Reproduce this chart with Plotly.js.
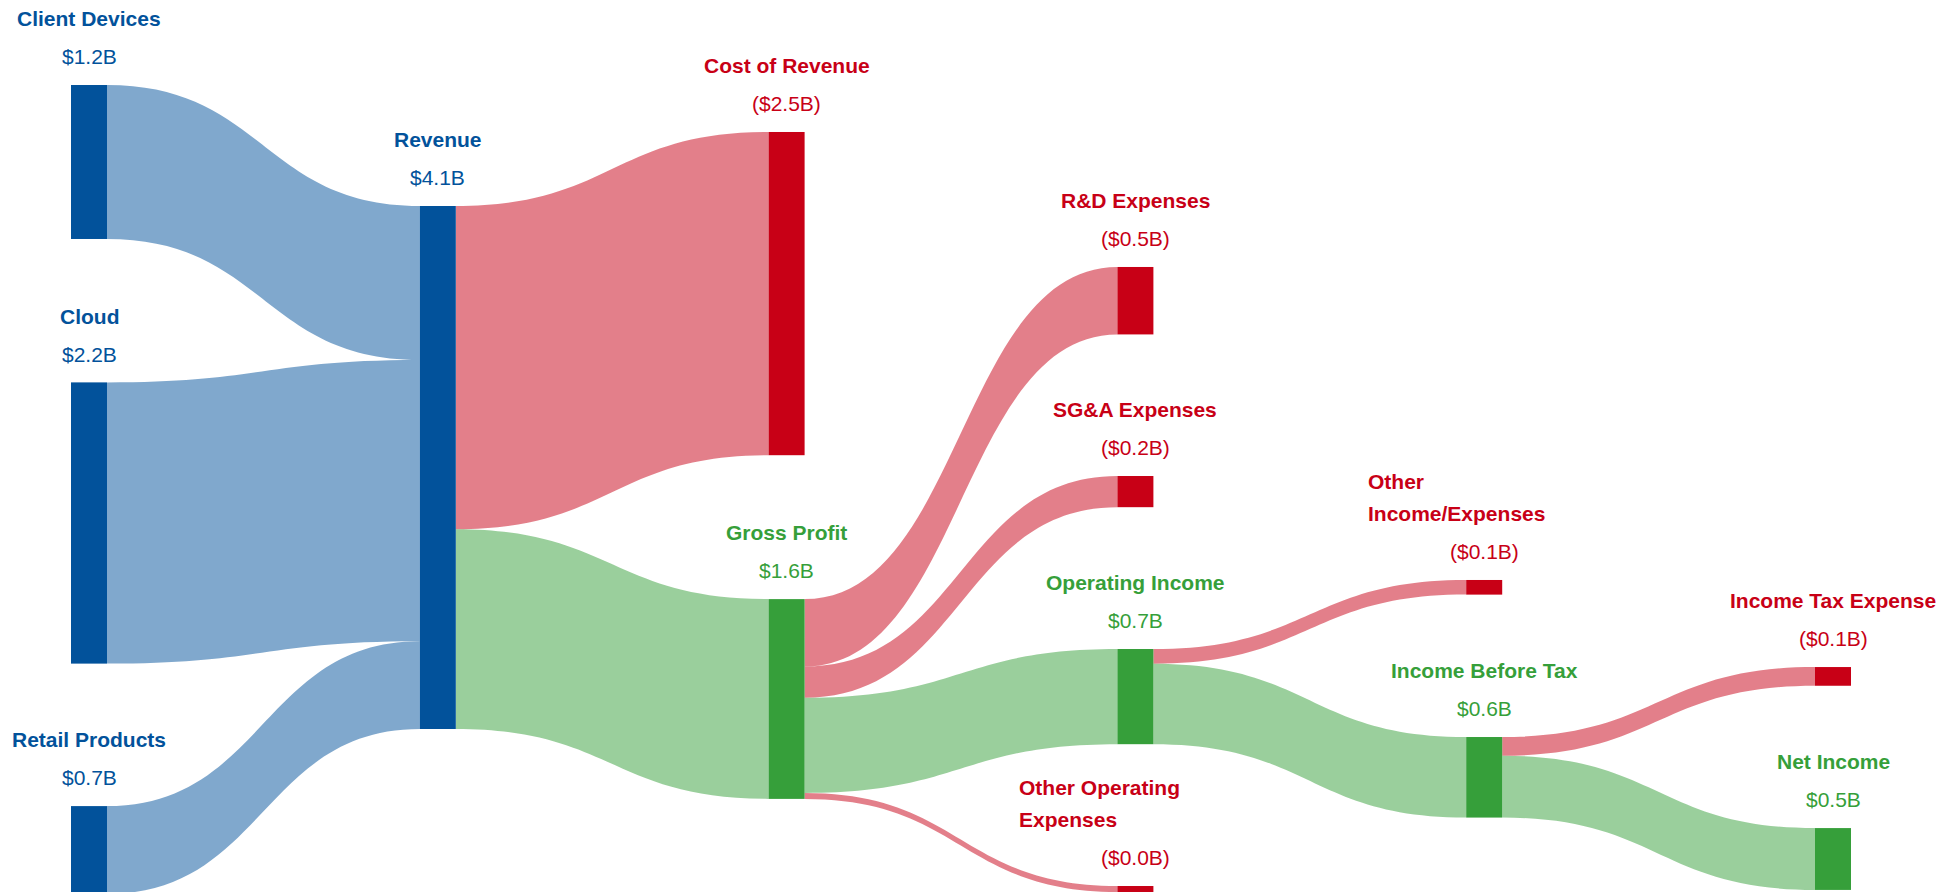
<!DOCTYPE html>
<html>
<head>
<meta charset="utf-8">
<script src="https://cdn.plot.ly/plotly-3.0.1.min.js"></script>
<style>
  html, body { margin: 0; padding: 0; background: #ffffff; }
  #chart { width: 1954px; height: 892px; }
</style>
</head>
<body>
<div id="chart"></div>
<script>
// ---------------- DATA ----------------
var nodeNames = [
  "Client Devices", "Cloud", "Retail Products", "Revenue", "Cost of Revenue",
  "Gross Profit", "R&D Expenses", "SG&A Expenses", "Operating Income",
  "Other Operating<br>Expenses", "Other<br>Income/Expenses", "Income Before Tax",
  "Income Tax Expense", "Net Income"
];
var nodeKind = [
  "income", "income", "income", "income", "expense",
  "profit", "expense", "expense", "profit",
  "expense", "expense", "profit",
  "expense", "profit"
];
var linkSource = [0, 1, 2, 3, 3, 5, 5, 5, 5, 8, 8, 11, 11];
var linkTarget = [3, 3, 3, 4, 5, 6, 7, 8, 9, 10, 11, 12, 13];
var linkValue  = [1210, 2210, 690, 2540, 1570, 530, 245, 748, 47, 115, 633, 147, 486]; // $ millions

// ---------------- ARRANGEMENT (layout only) ----------------
var W = 1954, H = 892;
var nodeColumn = [0, 0, 0, 1, 2, 2, 3, 3, 3, 3, 4, 4, 5, 5];
var nodeCenterYpx = [162, 523, 850, 467.5, 293.6, 699, 300.7, 491.6, 696.6, 889, 587.3, 777.3, 676.4, 859];
var colX0 = 89, colStep = 348.8;
var wrapHalfWidth = 118;   // wrapped labels: left-aligned inside a box centred on the node

// ---------------- STYLE ----------------
var FONT = "Arial, 'Liberation Sans', Helvetica, sans-serif";
var solid = { income: "rgb(2,82,155)", expense: "rgb(200,0,22)", profit: "rgb(54,159,58)" };
var light = { income: "rgba(2,82,155,0.5)", expense: "rgba(200,0,22,0.5)", profit: "rgba(54,159,58,0.5)" };

// node values (max of inflow / outflow)
var inSum = nodeNames.map(function(){ return 0; });
var outSum = nodeNames.map(function(){ return 0; });
for (var k = 0; k < linkValue.length; k++) {
  outSum[linkSource[k]] += linkValue[k];
  inSum[linkTarget[k]] += linkValue[k];
}
var nodeValue = nodeNames.map(function(_, i){ return Math.max(inSum[i], outSum[i]); });
function fmt(i) {
  var s = "$" + (nodeValue[i] / 1000).toFixed(1) + "B";
  return nodeKind[i] === "expense" ? "(" + s + ")" : s;
}

var trace = {
  type: "sankey",
  orientation: "h",
  arrangement: "fixed",
  node: {
    label: nodeNames.map(function(){ return ""; }),
    customdata: nodeNames.map(function(n, i){ return n.replace("<br>", " ") + ": " + fmt(i); }),
    hovertemplate: "%{customdata}<extra></extra>",
    color: nodeKind.map(function(c){ return solid[c]; }),
    line: { width: 0 },
    thickness: 36,
    pad: 184.5,
    align: "left",
    x: nodeColumn.map(function(c){ return (colX0 + c * colStep) / W; }),
    y: nodeCenterYpx.map(function(y){ return y / H; })
  },
  link: {
    source: linkSource,
    target: linkTarget,
    value: linkValue,
    color: linkTarget.map(function(t){ return light[nodeKind[t]]; }),
    line: { width: 0 }
  }
};

var layout = {
  width: W, height: H,
  margin: { l: 0, r: 0, t: 0, b: 0 },
  paper_bgcolor: "#ffffff",
  font: { family: FONT, size: 21 },
  showlegend: false
};

Plotly.newPlot("chart", [trace], layout, { displayModeBar: false }).then(function(gd) {
  var base = gd.getBoundingClientRect();
  var groups = gd.querySelectorAll(".sankey-node");
  var anns = [];
  var FS = 21;
  groups.forEach(function(g, gi) {
    var d = g.__data__ || {};
    var idx = (d.node && d.node.pointNumber !== undefined) ? d.node.pointNumber :
              (d.pointNumber !== undefined ? d.pointNumber : gi);
    var rectEl = g.querySelector(".node-rect") || g;
    var r = rectEl.getBoundingClientRect();
    var cx = (r.left + r.right) / 2 - base.left;
    var top = r.top - base.top;
    var color = solid[nodeKind[idx]];
    var valueBase = top - 21;
    anns.push({
      xref: "paper", yref: "paper", showarrow: false,
      x: cx / W, y: 1 - (valueBase - 0.346 * FS) / H,
      xanchor: "center", yanchor: "middle",
      text: fmt(idx),
      font: { family: FONT, size: FS, color: color }
    });
    var lines = nodeNames[idx].split("<br>");
    var wrapped = lines.length > 1;
    for (var L = 0; L < lines.length; L++) {
      var bl = valueBase - 38 - 32 * (lines.length - 1 - L);
      anns.push({
        xref: "paper", yref: "paper", showarrow: false,
        x: (wrapped ? cx - wrapHalfWidth : cx) / W,
        y: 1 - (bl - 0.346 * FS) / H,
        xanchor: wrapped ? "left" : "center", yanchor: "middle",
        text: "<b>" + lines[L] + "</b>",
        font: { family: FONT, size: FS, color: color }
      });
    }
  });
  return Plotly.relayout(gd, { annotations: anns });
});
</script>
</body>
</html>
